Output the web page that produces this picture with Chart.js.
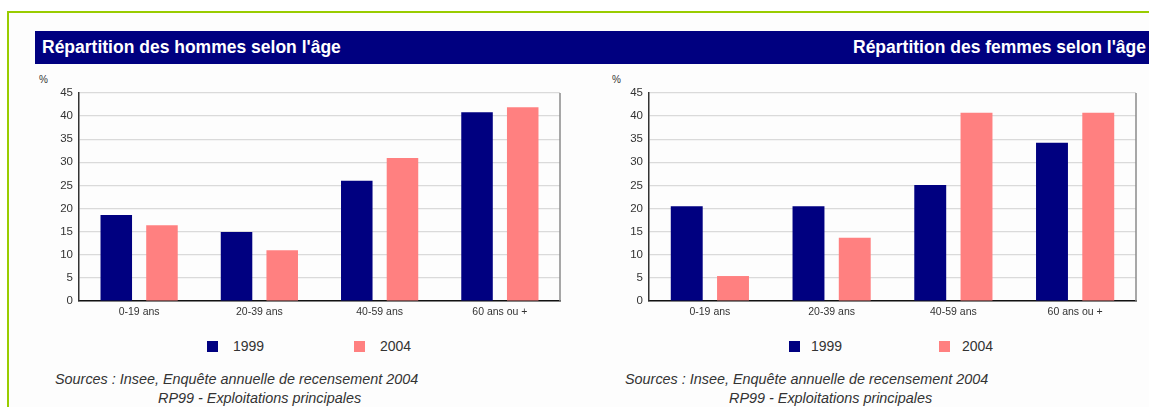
<!DOCTYPE html>
<html>
<head>
<meta charset="utf-8">
<script src="https://cdn.jsdelivr.net/npm/chart.js@4/dist/chart.umd.min.js"></script>
<style>
  body { margin: 0; width: 1149px; height: 407px; overflow: hidden; background: #fff; font-family: "Liberation Sans", Arial, sans-serif; position: relative; }
  .frame { position: absolute; left: 7px; top: 11px; width: 1150px; height: 400px; border-top: 2px solid #99cc00; border-left: 2px solid #99cc00; background: #fdfdfd; }
  .bar { position: absolute; left: 35px; top: 31px; width: 1114px; height: 33px; background: #000080; }
  .title { position: absolute; top: 0; line-height: 32px; color: #fff; font-weight: bold; font-size: 17.5px; white-space: nowrap; }
  .pct { position: absolute; top: 74px; font-size: 10px; color: #333; }
  canvas { position: absolute; }
  .sq { position: absolute; width: 11px; height: 11px; }
  .lg { position: absolute; font-size: 14px; color: #333; line-height: 16px; }
  .src { position: absolute; font-size: 14.4px; font-style: italic; color: #333; white-space: nowrap; line-height: 17px; }
</style>
</head>
<body>
<div class="frame"></div>
<div class="bar">
  <div class="title" style="left:7px">Répartition des hommes selon l'âge</div>
  <div class="title" style="right:3px">Répartition des femmes selon l'âge</div>
</div>
<div class="pct" style="left:39px">%</div>
<div class="pct" style="left:612px">%</div>
<canvas id="hommes" width="540" height="240" style="left:30px;top:80px"></canvas>
<canvas id="femmes" width="546" height="240" style="left:600px;top:80px"></canvas>
<div id="legends"></div>
<div class="src" style="left:55px;top:371px">Sources : Insee, Enquête annuelle de recensement 2004</div>
<div class="src" style="left:158px;top:390px">RP99 - Exploitations principales</div>
<div class="src" style="left:625px;top:371px">Sources : Insee, Enquête annuelle de recensement 2004</div>
<div class="src" style="left:729px;top:390px">RP99 - Exploitations principales</div>
<script>
'use strict'

const categories = ['0-19 ans', '20-39 ans', '40-59 ans', '60 ans ou +'];
const years = ['1999', '2004'];
const hommes1999 = [18.6, 14.9, 26.0, 40.8];
const hommes2004 = [16.4, 11.0, 30.9, 41.9];
const femmes1999 = [20.5, 20.5, 25.1, 34.2];
const femmes2004 = [5.4, 13.7, 40.7, 40.7];
const yMax = 45;
const yStep = 5;

const colors = ['#000080', '#ff8080'];

// right edge of the plot is a darker grey line
const rightBorder = {
    id: 'rightBorder',
    afterDraw(chart) {
        const { ctx, chartArea: a } = chart;
        ctx.save();
        ctx.strokeStyle = '#8a8a8a';
        ctx.lineWidth = 1.5;
        ctx.beginPath();
        ctx.moveTo(a.right, a.top);
        ctx.lineTo(a.right, a.bottom);
        ctx.stroke();
        ctx.restore();
    }
};

function makeChart(id, a, b) {
    const ctx = document.getElementById(id).getContext('2d');
    return new Chart(ctx, {
        type: 'bar',
        data: {
            labels: categories,
            datasets: [{
                label: years[0],
                data: a,
                backgroundColor: colors[0],
                categoryPercentage: 0.76,
                barPercentage: 0.69
            }, {
                label: years[1],
                data: b,
                backgroundColor: colors[1],
                categoryPercentage: 0.76,
                barPercentage: 0.69
            }]
        },
        plugins: [rightBorder],
        options: {
            responsive: false,
            animation: false,
            layout: { padding: { top: 9, right: 10, left: 0, bottom: 0 } },
            plugins: { legend: { display: false }, tooltip: { enabled: false } },
            scales: {
                x: {
                    grid: { display: false, drawTicks: false },
                    border: { color: '#111', width: 1.5 },
                    ticks: { color: '#333', font: { family: 'Liberation Sans', size: 10.5 }, padding: 5, maxRotation: 0 },
                    afterFit: s => { s.height = 19; }
                },
                y: {
                    min: 0,
                    max: yMax,
                    grid: { color: '#dadada', lineWidth: 1.2, drawTicks: false },
                    border: { color: '#333', width: 1.5 },
                    ticks: { stepSize: yStep, color: '#333', font: { family: 'Liberation Sans', size: 11.5 }, padding: 6 },
                    afterFit: s => { s.width = 49; }
                }
            }
        }
    });
}

makeChart('hommes', hommes1999, hommes2004);
makeChart('femmes', femmes1999, femmes2004);

// html legends under each chart
const legendPos = [
    { sq: [207, 354], txt: [233, 380] },
    { sq: [789, 939], txt: [811, 962] }
];
const legends = document.getElementById('legends');
legendPos.forEach(p => {
    years.forEach((y, i) => {
        const s = document.createElement('div');
        s.className = 'sq';
        s.style.left = p.sq[i] + 'px';
        s.style.top = '341px';
        s.style.background = colors[i];
        legends.appendChild(s);
        const t = document.createElement('div');
        t.className = 'lg';
        t.style.left = p.txt[i] + 'px';
        t.style.top = '338px';
        t.textContent = y;
        legends.appendChild(t);
    });
});
</script>
</body>
</html>
